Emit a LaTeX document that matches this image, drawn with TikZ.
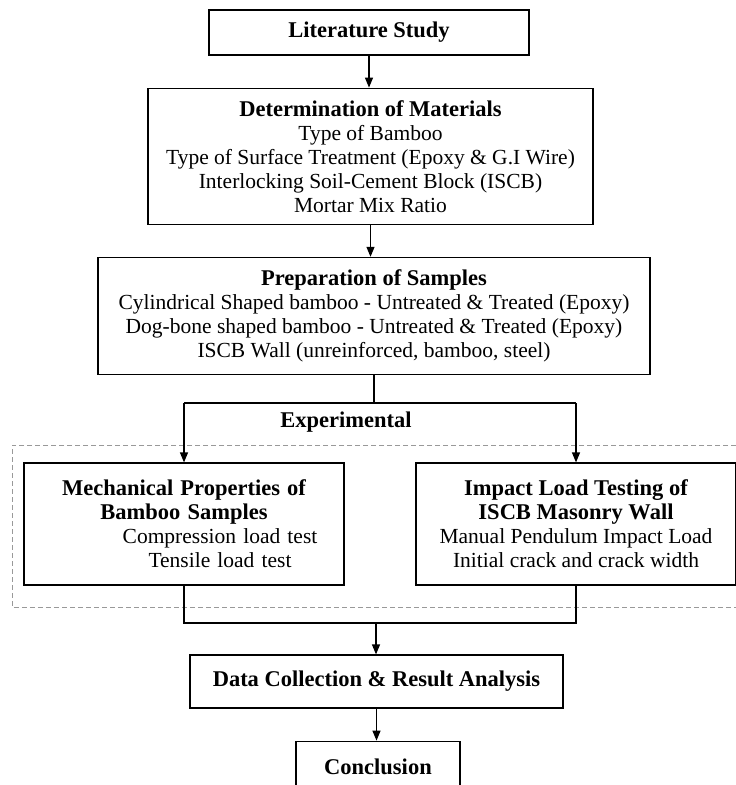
\documentclass[tikz,border=0pt]{standalone}
\usepackage{fontspec}
\setmainfont{Liberation Serif}
\usetikzlibrary{positioning,calc,arrows.meta}

\newcommand\stagetitle[1]{{\fontsize{22.5}{24}\selectfont\bfseries #1}}

\tikzset{
  stagebox/.style={draw, line width=1.2pt, align=center, inner sep=0pt,
    font=\fontsize{21.5}{24}\selectfont},
  flow/.style={line width=1.2pt, -{Triangle[length=10pt,width=8pt]}},
  link/.style={line width=1.2pt},
  groupframe/.style={draw=gray!80, line width=1pt, dash pattern=on 5pt off 3pt},
}

\begin{document}
\begin{tikzpicture}[x=1pt, y=1pt, node distance=32pt]
  \useasboundingbox (0,0) rectangle (736,-785);
  % main chain
  \node (lit) [stagebox, minimum width=320pt, minimum height=45pt] at (369,-32.5)
    {\stagetitle{Literature Study}};
  \node (mat) [stagebox, below=of lit, xshift=1.5pt, minimum width=445pt, minimum height=136pt]
    {\stagetitle{Determination of Materials}\\Type of Bamboo\\
     Type of Surface Treatment (Epoxy \& G.I Wire)\\
     Interlocking Soil-Cement Block (ISCB)\\Mortar Mix Ratio};
  \node (prep) [stagebox, below=of mat, xshift=3.5pt, minimum width=552pt, minimum height=117pt]
    {\stagetitle{Preparation of Samples}\\
     Cylindrical Shaped bamboo - Untreated \& Treated (Epoxy)\\
     Dog-bone shaped bamboo - Untreated \& Treated (Epoxy)\\
     ISCB Wall (unreinforced, bamboo, steel)};
  % experimental group
  \draw[groupframe] (736,-445) -- (12,-445) -- (12,-607) -- (736,-607);
  \coordinate (expL) at (184,-403);
  \coordinate (expR) at (576,-403);
  \node (exp) at (346,-422) {\stagetitle{Experimental}};
  \node (mech) [stagebox, text width=310pt, minimum width=320pt, minimum height=122pt] at (184,-524)
    {\stagetitle{Mechanical Properties of}\\\stagetitle{Bamboo Samples}\\
     \hspace*{72pt}Compression load test\\\hspace*{72pt}Tensile load test};
  \node (imp) [stagebox, minimum width=320pt, minimum height=122pt] at (576,-524)
    {\stagetitle{Impact Load Testing of}\\\stagetitle{ISCB Masonry Wall}\\
     Manual Pendulum Impact Load\\Initial crack and crack width};
  \coordinate (join) at (376,-623);
  \node (data) [stagebox, minimum width=373pt, minimum height=53pt] at (376.5,-681.5)
    {\stagetitle{Data Collection \& Result Analysis}};
  \node (concl) [stagebox, below=of data, xshift=1.5pt, minimum width=164pt, minimum height=52pt]
    {\stagetitle{Conclusion}};
  % connectors
  \draw[flow] (lit.south) -- (lit.south |- mat.north);
  \draw[flow] (mat.south) -- (mat.south |- prep.north);
  \draw[link] (prep.south) -- (prep.south |- expL);
  \draw[link] (expL) -- (expR);
  \draw[flow] (expL) -- (mech);
  \draw[flow] (expR) -- (imp);
  \draw[link] (mech.south) |- (join) -| (imp.south);
  \draw[flow] (join) -- (join |- data.north);
  \draw[flow] (data.south) -- (data.south |- concl.north);
\end{tikzpicture}
\end{document}
